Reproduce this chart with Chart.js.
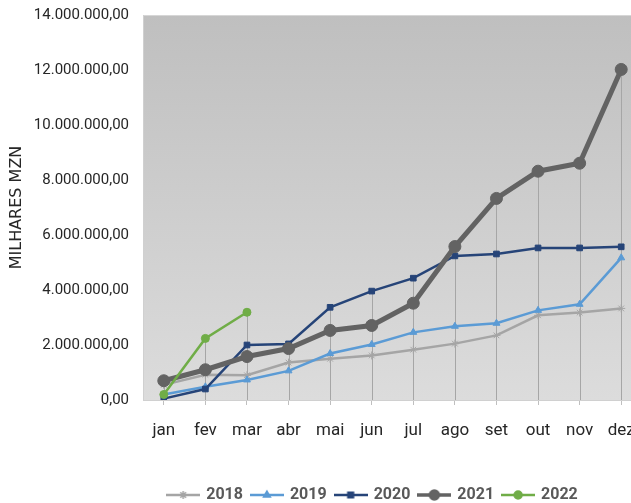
<!DOCTYPE html>
<html>
<head>
<meta charset="utf-8">
<script src="https://cdn.jsdelivr.net/npm/chart.js@4.4.1/dist/chart.umd.min.js"></script>
<style>
  html, body { margin: 0; padding: 0; background: #fff; overflow: hidden; }
  #wrap { position: absolute; left: 0; top: 0; width: 631px; height: 503px; overflow: hidden; }
</style>
</head>
<body>
<div id="wrap"><canvas id="lineChart" width="746" height="513"></canvas></div>
<script>
// Data
const months = ['jan', 'fev', 'mar', 'abr', 'mai', 'jun', 'jul', 'ago', 'set', 'out', 'nov', 'dez'];
const years = ['2018', '2019', '2020', '2021', '2022'];
const v2018 = [550000, 920000, 900000, 1360000, 1500000, 1620000, 1830000, 2050000, 2350000, 3080000, 3180000, 3330000];
const v2019 = [200000, 480000, 730000, 1060000, 1690000, 2020000, 2460000, 2680000, 2790000, 3260000, 3480000, 5170000];
const v2020 = [50000, 400000, 2000000, 2040000, 3370000, 3960000, 4430000, 5240000, 5310000, 5530000, 5530000, 5570000];
const v2021 = [700000, 1100000, 1580000, 1870000, 2530000, 2710000, 3520000, 5580000, 7330000, 8320000, 8610000, 12020000];
const v2022 = [200000, 2240000, 3190000, null, null, null, null, null, null, null, null, null];
const yTicks = [0, 2000000, 4000000, 6000000, 8000000, 10000000, 12000000, 14000000];

const FONT = "'Roboto', sans-serif";

// styles for each series
const styles = [
  { color: '#a5a5a5', width: 2.5, point: 'star', radius: 4 },
  { color: '#5b9bd5', width: 2.5, point: 'triangle', radius: 4 },
  { color: '#264478', width: 2.5, point: 'rect', radius: 4 },
  { color: '#636363', width: 5, point: 'circle', radius: 6 },
  { color: '#70ad47', width: 2.5, point: 'circle', radius: 4 }
];
const seriesValues = [v2018, v2019, v2020, v2021, v2022];

// small canvas used as legend symbol: line with marker in the middle
function legendSymbol(s) {
  const c = document.createElement('canvas');
  c.width = 34; c.height = 14;
  const g = c.getContext('2d');
  g.strokeStyle = s.color;
  g.lineWidth = Math.min(s.width, 3.5);
  g.beginPath(); g.moveTo(0, 7); g.lineTo(34, 7); g.stroke();
  g.fillStyle = s.color;
  g.lineWidth = 1.5;
  Chart.helpers.drawPoint(g, { pointStyle: s.point, radius: Math.min(s.radius, 5), borderWidth: 1.5 }, 17, 7);
  return c;
}

// gray gradient behind the plot
const plotBackground = {
  id: 'plotBackground',
  beforeDraw(chart) {
    const { ctx, chartArea: a } = chart;
    const grad = ctx.createLinearGradient(0, a.top, 0, a.bottom);
    grad.addColorStop(0, '#bfbfbf');
    grad.addColorStop(1, '#dcdcdc');
    ctx.save();
    ctx.fillStyle = grad;
    ctx.fillRect(a.left, a.top, a.right - a.left, a.bottom - a.top);
    ctx.strokeStyle = '#d6d6d6';
    ctx.lineWidth = 1;
    ctx.beginPath(); ctx.moveTo(a.left, a.top + 0.5); ctx.lineTo(a.right, a.top + 0.5); ctx.stroke();
    ctx.restore();
  }
};

// drop lines from the highest point down to the axis
const dropLines = {
  id: 'dropLines',
  beforeDatasetsDraw(chart) {
    const { ctx, scales: { x, y } } = chart;
    ctx.save();
    ctx.strokeStyle = '#a6a6a6';
    ctx.lineWidth = 1;
    months.forEach((m, i) => {
      const vals = seriesValues.map(v => v[i]).filter(v => v !== null);
      const top = Math.max(...vals);
      const px = Math.round(x.getPixelForValue(i)) + 0.5;
      ctx.beginPath();
      ctx.moveTo(px, y.getPixelForValue(top));
      ctx.lineTo(px, y.getPixelForValue(0));
      ctx.stroke();
    });
    ctx.restore();
  }
};

const ctx = document.getElementById('lineChart').getContext('2d');
new Chart(ctx, {
  type: 'line',
  data: {
    labels: months,
    datasets: years.map((yr, i) => ({
      label: yr,
      data: seriesValues[i],
      borderColor: styles[i].color,
      backgroundColor: styles[i].color,
      borderWidth: styles[i].width,
      pointStyle: styles[i].point,
      pointRadius: styles[i].radius,
      pointBorderWidth: 1,
      tension: 0,
      fill: false,
      order: years.length - i
    }))
  },
  options: {
    responsive: false,
    animation: false,
    devicePixelRatio: 1,
    layout: { padding: { left: 0, right: 0, top: 9, bottom: 0 } },
    plugins: {
      tooltip: { enabled: false },
      legend: {
        position: 'bottom',
        labels: {
          usePointStyle: true,
          pointStyleWidth: 30,
          padding: 9,
          color: '#595959',
          font: { family: FONT, size: 16, weight: 'bold' },
          generateLabels(chart) {
            return chart.data.datasets.map((ds, i) => ({
              text: ds.label,
              fontColor: '#595959',
              pointStyle: legendSymbol(styles[i]),
              lineWidth: 0,
              strokeStyle: 'transparent',
              fillStyle: 'transparent',
              datasetIndex: i,
              hidden: false
            }));
          }
        }
      }
    },
    scales: {
      x: {
        offset: true,
        grid: { display: true, drawOnChartArea: false, tickLength: 5, color: '#bfbfbf' },
        border: { color: '#d0d0d0' },
        ticks: { color: '#262626', padding: 16, font: { family: FONT, size: 17 }, maxRotation: 0, autoSkip: false },
        afterFit(scale) { scale.height = 78; }
      },
      y: {
        min: 0,
        max: 14000000,
        afterBuildTicks(scale) { scale.ticks = yTicks.map(v => ({ value: v })); },
        grid: { display: false },
        border: { color: '#d0d0d0' },
        ticks: {
          color: '#262626',
          padding: 6,
          font: { family: FONT, size: 15 },
          callback(v) {
            return v.toLocaleString('de-DE', { minimumFractionDigits: 2, maximumFractionDigits: 2 });
          }
        },
        title: {
          display: true,
          text: 'MILHARES MZN',
          color: '#262626',
          font: { family: "'DejaVu Sans', sans-serif", size: 16 },
          padding: { top: 7, bottom: 0 }
        },
        afterFit(scale) { scale.width = 143; }
      },
      // empty right-hand axis: the plot runs past the clipped right edge
      yRight: {
        position: 'right',
        grid: { display: false },
        border: { display: false },
        ticks: { display: false },
        afterFit(scale) { scale.width = 104; }
      }
    }
  },
  plugins: [plotBackground, dropLines]
});
</script>
</body>
</html>
